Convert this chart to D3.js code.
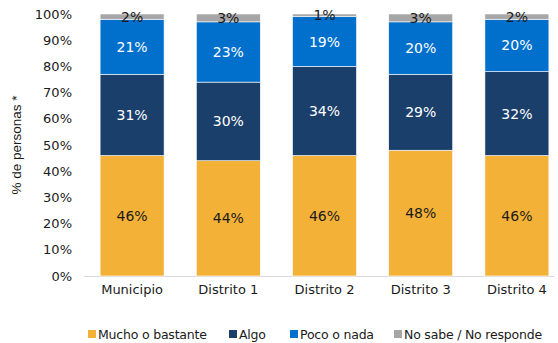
<!DOCTYPE html>
<html><head><meta charset="utf-8">
<script src="https://cdn.jsdelivr.net/npm/d3@7"></script>
<style>body{margin:0;background:#fff}svg{display:block}</style>
</head><body><div id="chart"></div>
<script>
const categories = ["Municipio","Distrito 1","Distrito 2","Distrito 3","Distrito 4"];
const seriesNames = ["Mucho o bastante","Algo","Poco o nada","No sabe / No responde"];
const mucho = [46,44,46,48,46];
const algo = [31,30,34,29,32];
const poco = [21,23,19,20,20];
const nosabe = [2,3,1,3,2];
const yTicks = [0,10,20,30,40,50,60,70,80,90,100];
const colors = ["#F3B237","#1B3F6B","#0070CC","#A6A6A6"];
const labelColors = ["#1a1a1a","#ffffff","#ffffff","#1a1a1a"];

const W=558,H=343;
const font = "'DejaVu Sans', sans-serif";
const svg = d3.select("#chart").append("svg").attr("width",W).attr("height",H);
const x = d3.scaleBand().domain(categories).range([84,565]).paddingInner(0.335).paddingOuter(0.1675);
const y = d3.scaleLinear().domain([0,100]).range([276,14]);

const rows = categories.map((c,i)=>({cat:c, s0:mucho[i], s1:algo[i], s2:poco[i], s3:nosabe[i]}));
const stack = d3.stack().keys(["s0","s1","s2","s3"])(rows);

// baseline
svg.append("line").attr("x1",84).attr("x2",554).attr("y1",y(0)+0.5).attr("y2",y(0)+0.5)
  .attr("stroke","#d9d9d9").attr("stroke-width",1);

const g = svg.selectAll("g.series").data(stack).enter().append("g").attr("fill",(d,i)=>colors[i]);
g.selectAll("rect").data(d=>d).enter().append("rect")
  .attr("x",d=>x(d.data.cat)).attr("width",x.bandwidth())
  .attr("y",d=>y(d[1])).attr("height",d=>y(d[0])-y(d[1]))
  .attr("stroke","#fff").attr("stroke-width",0.6);

stack.forEach((s,si)=>{
  svg.append("g").selectAll("text").data(s).enter().append("text")
    .attr("x",d=>x(d.data.cat)+x.bandwidth()/2)
    .attr("y",d=>(y(d[0])+y(d[1]))/2)
    .attr("dy","0.36em").attr("text-anchor","middle")
    .attr("font-family",font).attr("font-size",14)
    .attr("fill",labelColors[si])
    .text(d=>Math.round(d[1]-d[0])+"%");
});

// y axis
const yAxis = d3.axisLeft(y).tickValues(yTicks).tickFormat(d=>d+"%").tickSize(0).tickPadding(0);
const ya = svg.append("g").attr("transform","translate(72,0)").call(yAxis);
ya.select(".domain").remove();
ya.selectAll("text").attr("font-family",font).attr("font-size",13).attr("fill","#1a1a1a");

// x axis
const xAxis = d3.axisBottom(x).tickSize(0).tickPadding(9);
const xa = svg.append("g").attr("transform",`translate(0,${y(0)})`).call(xAxis);
xa.select(".domain").remove();
xa.selectAll("text").attr("font-family",font).attr("font-size",13).attr("fill","#1a1a1a");

// y title
svg.append("text").attr("transform","translate(21,145) rotate(-90)")
  .attr("text-anchor","middle").attr("font-family","'Liberation Sans', Arial, sans-serif")
  .attr("font-size",13.5).attr("fill","#1a1a1a").text("% de personas *");

// legend
const legX = [88,229,290,394];
const lg = svg.append("g").selectAll("g").data(seriesNames).enter().append("g")
  .attr("transform",(d,i)=>`translate(${legX[i]},334)`);
lg.append("rect").attr("x",0).attr("y",-4).attr("width",8).attr("height",8).attr("fill",(d,i)=>colors[i]);
lg.append("text").attr("x",10).attr("y",0).attr("dy","0.36em")
  .attr("font-family",font).attr("font-size",12.5).attr("letter-spacing","-0.2")
  .attr("fill","#1a1a1a").text(d=>d);
</script></body></html>
